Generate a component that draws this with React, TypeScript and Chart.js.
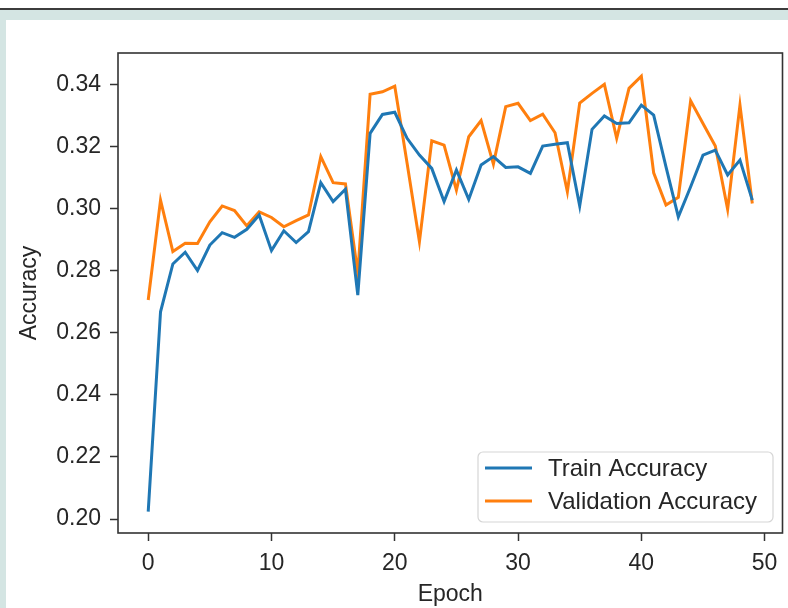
import React, { useEffect, useRef } from "react";
import { Chart, registerables } from "chart.js";

Chart.register(...registerables);

const epochs = [
  0, 1, 2, 3, 4, 5, 6, 7, 8, 9, 10, 11, 12, 13, 14, 15, 16, 17, 18, 19, 20, 21, 22, 23, 24,
  25, 26, 27, 28, 29, 30, 31, 32, 33, 34, 35, 36, 37, 38, 39, 40, 41, 42, 43, 44, 45, 46, 47, 48, 49,
];

const trainAccuracy = [
  0.2024, 0.2668, 0.2822, 0.286, 0.2801, 0.2883, 0.2923, 0.2908, 0.2934, 0.298,
  0.2865, 0.2929, 0.2891, 0.2926, 0.3084, 0.3023, 0.3063, 0.2722, 0.3243, 0.3304,
  0.3311, 0.3227, 0.3173, 0.313, 0.3023, 0.3125, 0.303, 0.3141, 0.3168, 0.3133,
  0.3135, 0.3114, 0.3202, 0.3208, 0.3213, 0.3009, 0.3256, 0.3299, 0.3275, 0.3277,
  0.3334, 0.3302, 0.3135, 0.2974, 0.3071, 0.3173, 0.3189, 0.3109, 0.3157, 0.3028,
];

const validationAccuracy = [
  0.2706, 0.3028, 0.2862, 0.2889, 0.2888, 0.2958, 0.3009, 0.2994, 0.2945, 0.299,
  0.2972, 0.2942, 0.2962, 0.298, 0.3168, 0.3084, 0.308, 0.2792, 0.3369, 0.3377,
  0.3395, 0.3147, 0.2894, 0.3219, 0.3205, 0.306, 0.3232, 0.3284, 0.3144, 0.3329,
  0.334, 0.3284, 0.3305, 0.3245, 0.3055, 0.3341, 0.3372, 0.3401, 0.3227, 0.3388,
  0.3427, 0.3116, 0.3012, 0.3037, 0.3348, 0.3275, 0.3202, 0.2998, 0.3334, 0.3017,
];

const xTicks = [0, 10, 20, 30, 40, 50];
const yTicks = [0.2, 0.22, 0.24, 0.26, 0.28, 0.3, 0.32, 0.34];
const seriesNames = ["Train Accuracy", "Validation Accuracy"];
const seriesColors = ["#1f77b4", "#ff7f0e"];

const FONT = "'Liberation Sans', Arial, sans-serif";
const TEXT = "#262626";
const AXIS = "#333333";

export default function App() {
  const ref = useRef<HTMLCanvasElement | null>(null);

  useEffect(() => {
    const canvas = ref.current;
    if (!canvas) return;

    const framePlugin = {
      id: "frameAndLegend",
      afterDraw(chart: any) {
        const { ctx, chartArea } = chart;
        const a = chartArea;
        ctx.save();
        // axes box
        ctx.strokeStyle = AXIS;
        ctx.lineWidth = 1.6;
        ctx.strokeRect(a.left, a.top, a.right - a.left, a.bottom - a.top);

        // legend
        const w = 295;
        const h = 70;
        const bx = a.right - 9.5 - w;
        const by = a.bottom - 11 - h;
        const r = 5;
        ctx.beginPath();
        ctx.moveTo(bx + r, by);
        ctx.lineTo(bx + w - r, by);
        ctx.arcTo(bx + w, by, bx + w, by + r, r);
        ctx.lineTo(bx + w, by + h - r);
        ctx.arcTo(bx + w, by + h, bx + w - r, by + h, r);
        ctx.lineTo(bx + r, by + h);
        ctx.arcTo(bx, by + h, bx, by + h - r, r);
        ctx.lineTo(bx, by + r);
        ctx.arcTo(bx, by, bx + r, by, r);
        ctx.closePath();
        ctx.fillStyle = "rgba(255,255,255,0.85)";
        ctx.fill();
        ctx.strokeStyle = "#d6d6d6";
        ctx.lineWidth = 1.2;
        ctx.stroke();

        const rows = [by + 16, by + 49];
        seriesNames.forEach((name, i) => {
          ctx.beginPath();
          ctx.strokeStyle = seriesColors[i];
          ctx.lineWidth = 3;
          ctx.moveTo(bx + 7, rows[i]);
          ctx.lineTo(bx + 54, rows[i]);
          ctx.stroke();
          ctx.fillStyle = TEXT;
          ctx.font = `24px ${FONT}`;
          ctx.textBaseline = "middle";
          ctx.textAlign = "left";
          ctx.fillText(name, bx + 70, rows[i] + 1);
        });
        ctx.restore();
      },
    };

    const chart = new Chart(canvas, {
      type: "line",
      data: {
        datasets: [
          {
            label: seriesNames[0],
            data: epochs.map((e, i) => ({ x: e, y: trainAccuracy[i] })),
            borderColor: seriesColors[0],
            backgroundColor: seriesColors[0],
            borderWidth: 3,
            pointRadius: 0,
            tension: 0,
          },
          {
            label: seriesNames[1],
            data: epochs.map((e, i) => ({ x: e, y: validationAccuracy[i] })),
            borderColor: seriesColors[1],
            backgroundColor: seriesColors[1],
            borderWidth: 3,
            pointRadius: 0,
            tension: 0,
          },
        ],
      },
      options: {
        animation: false,
        responsive: false,
        events: [],
        layout: { padding: { top: 33, right: 5.5, left: 0, bottom: 0 } },
        plugins: {
          legend: { display: false },
          tooltip: { enabled: false },
        },
        scales: {
          x: {
            type: "linear",
            min: -2.45,
            max: 51.45,
            afterBuildTicks: (s: any) => {
              s.ticks = xTicks.map((v) => ({ value: v }));
            },
            afterFit: (s: any) => {
              s.height = 75;
            },
            grid: {
              drawOnChartArea: false,
              drawTicks: true,
              tickLength: 8,
              tickColor: AXIS,
              tickWidth: 1.5,
            },
            border: { display: false },
            ticks: {
              font: { family: FONT, size: 23 },
              color: TEXT,
              padding: 9,
              maxRotation: 0,
              autoSkip: false,
              callback: (v: any) => String(v),
            },
            title: {
              display: true,
              text: "Epoch",
              font: { family: FONT, size: 23 },
              color: TEXT,
              padding: { top: 0, bottom: 0 },
            },
          },
          y: {
            type: "linear",
            min: 0.1955,
            max: 0.3502,
            afterBuildTicks: (s: any) => {
              s.ticks = yTicks.map((v) => ({ value: v }));
            },
            afterFit: (s: any) => {
              s.width = 112;
            },
            grid: {
              drawOnChartArea: false,
              drawTicks: true,
              tickLength: 8,
              tickColor: AXIS,
              tickWidth: 1.5,
            },
            border: { display: false },
            ticks: {
              font: { family: FONT, size: 23 },
              color: TEXT,
              padding: 9,
              autoSkip: false,
              callback: (v: any) => Number(v).toFixed(2),
            },
            title: {
              display: true,
              text: "Accuracy",
              font: { family: FONT, size: 23 },
              color: TEXT,
              padding: { top: 10, bottom: 0 },
            },
          },
        },
      },
      plugins: [framePlugin],
    } as any);

    return () => chart.destroy();
  }, []);

  return (
    <div
      style={{
        position: "fixed",
        left: 0,
        top: 0,
        width: 788,
        height: 608,
        background: "#ffffff",
        overflow: "hidden",
      }}
    >
      <div style={{ position: "absolute", left: 0, top: 8, width: 788, height: 2, background: "#3c3c3c" }} />
      <div style={{ position: "absolute", left: 0, top: 10, width: 788, height: 10, background: "#d4e5e3" }} />
      <div style={{ position: "absolute", left: 0, top: 10, width: 6, height: 598, background: "#d4e5e3" }} />
      <canvas
        ref={ref}
        width={782}
        height={588}
        style={{ position: "absolute", left: 6, top: 20, width: 782, height: 588, display: "block" }}
      />
    </div>
  );
}
